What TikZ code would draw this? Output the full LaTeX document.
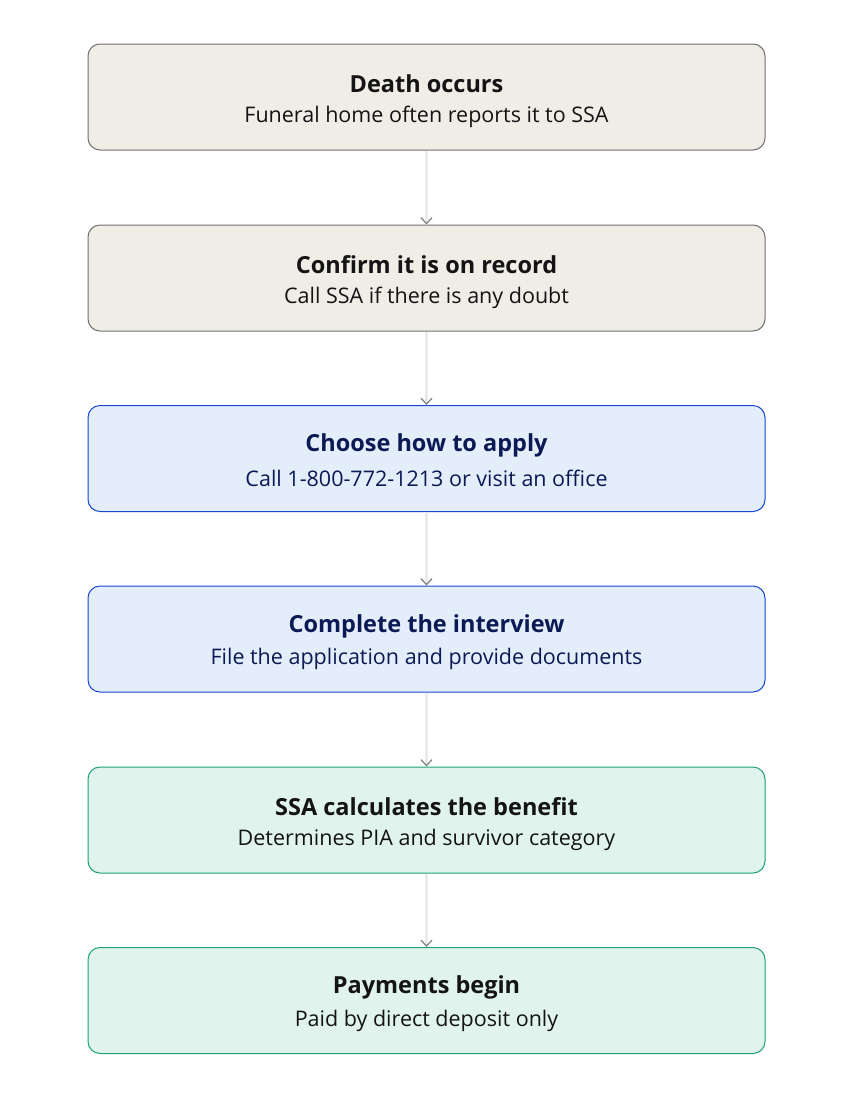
\documentclass[tikz,border=0pt]{standalone}
\usepackage{fontspec}
\setmainfont{Open Sans}
\usetikzlibrary{arrows.meta}
\definecolor{grayfill}{HTML}{F0EDE6}
\definecolor{grayline}{HTML}{707070}
\definecolor{bluefill}{HTML}{E4EEFA}
\definecolor{blueline}{HTML}{1846D0}
\definecolor{bluetext}{HTML}{0B1A55}
\definecolor{greenfill}{HTML}{E0F3EC}
\definecolor{greenline}{HTML}{1FA07C}
\definecolor{conn}{HTML}{EBEBEB}
\definecolor{inktext}{HTML}{141414}
\begin{document}
\begin{tikzpicture}[x=1pt,y=-1pt,
  stepbox/.style={draw, line width=1pt, rounded corners=12pt, minimum width=677pt, minimum height=106pt, inner sep=0pt},
  graybox/.style={stepbox, fill=grayfill, draw=grayline},
  bluebox/.style={stepbox, fill=bluefill, draw=blueline},
  greenbox/.style={stepbox, fill=greenfill, draw=greenline},
  ttl/.style={font=\fontsize{23.5}{27}\selectfont\bfseries, text=#1},
  ttl/.default=inktext,
  sub/.style={font=\fontsize{21.5}{25}\selectfont, text=#1},
  sub/.default=inktext,
  flow/.style={draw=conn, line width=3.5pt, -{Straight Barb[length=6pt,width=11pt,line width=1.2pt,color=gray]}}
]
\useasboundingbox (0,0) rectangle (854,1117);
\node[graybox] (b1) at (426.5,97) {};
\node[graybox] (b2) at (426.5,278) {};
\node[bluebox] (b3) at (426.5,458.5) {};
\node[bluebox] (b4) at (426.5,639) {};
\node[greenbox] (b5) at (426.5,820) {};
\node[greenbox] (b6) at (426.5,1000.5) {};

\node[ttl] (t1) at ([yshift=13pt]b1.center) {Death occurs};
\node[sub] (s1) at ([yshift=-20pt]b1.center) {Funeral home often reports it to SSA};
\node[ttl] (t2) at ([yshift=13pt]b2.center) {Confirm it is on record};
\node[sub] (s2) at ([yshift=-20pt]b2.center) {Call SSA if there is any doubt};
\node[ttl=bluetext] (t3) at ([yshift=13pt]b3.center) {Choose how to apply};
\node[sub=bluetext] (s3) at ([yshift=-20pt]b3.center) {Call 1-800-772-1213 or visit an office};
\node[ttl=bluetext] (t4) at ([yshift=13pt]b4.center) {Complete the interview};
\node[sub=bluetext] (s4) at ([yshift=-20pt]b4.center) {File the application and provide documents};
\node[ttl] (t5) at ([yshift=13pt]b5.center) {SSA calculates the benefit};
\node[sub] (s5) at ([yshift=-20pt]b5.center) {Determines PIA and survivor category};
\node[ttl] (t6) at ([yshift=13pt]b6.center) {Payments begin};
\node[sub] (s6) at ([yshift=-20pt]b6.center) {Paid by direct deposit only};

\foreach \a/\b in {b1/b2,b2/b3,b3/b4,b4/b5,b5/b6}
  \draw[flow] (\a.south) -- (\b.north);
\end{tikzpicture}
\end{document}
